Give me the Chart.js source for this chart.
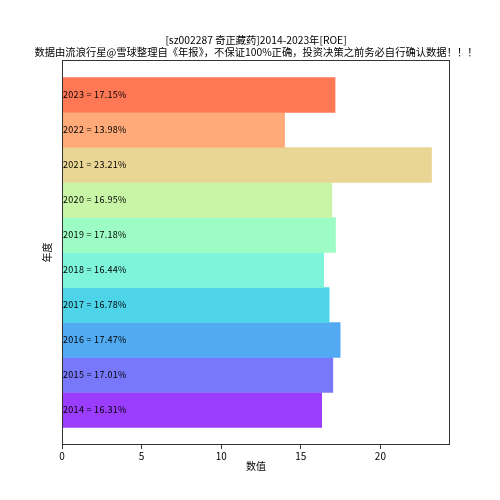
<!DOCTYPE html>
<html>
<head>
<meta charset="utf-8">
<script src="https://cdn.jsdelivr.net/npm/chart.js@4/dist/chart.umd.min.js"></script>
<style>
  html, body { margin: 0; padding: 0; background: #fff; }
  #wrap { width: 500px; height: 500px; }
</style>
</head>
<body>
<div id="wrap"><canvas id="roeChart"></canvas></div>
<script>
// -----------------------------
// Data (2014 at the bottom)
// -----------------------------
const years = ['2014', '2015', '2016', '2017', '2018', '2019', '2020', '2021', '2022', '2023'];
const roeValues = [16.31, 17.01, 17.47, 16.78, 16.44, 17.18, 16.95, 23.21, 13.98, 17.15];
const barColors = ['#9a3dfc', '#7878fa', '#52aaf2', '#4dd4e8', '#7ef5da',
                   '#9dfcc4', '#c8f5a6', '#ead694', '#ffaa78', '#ff7856'];
const xTicks = [0, 5, 10, 15, 20];

const titleLines = [
  '[sz002287 奇正藏药]2014-2023年[ROE]',
  '数据由流浪行星@雪球整理自《年报》，不保证100%正确，投资决策之前务必自行确认数据！！！'
];

const cjkFont = '"Noto Sans CJK SC", "Noto Sans", sans-serif';
const axisColor = '#333';

// -----------------------------
// Plugins
// -----------------------------
const titlePlugin = {
  id: 'twoLineTitle',
  afterDraw(chart) {
    const { ctx, chartArea } = chart;
    const cx = (chartArea.left + chartArea.right) / 2;
    ctx.save();
    ctx.fillStyle = '#000';
    ctx.textAlign = 'center';
    ctx.textBaseline = 'middle';
    ctx.font = `10.3px ${cjkFont}`;
    ctx.fillText(titleLines[0], cx, 40);
    ctx.fillText(titleLines[1], cx, 52);
    ctx.restore();
  }
};

const framePlugin = {
  id: 'frame',
  afterDraw(chart) {
    const { ctx, chartArea } = chart;
    ctx.save();
    ctx.strokeStyle = axisColor;
    ctx.lineWidth = 1;
    ctx.strokeRect(chartArea.left + 0.5, chartArea.top + 0.5,
                   chartArea.right - chartArea.left - 1, chartArea.bottom - chartArea.top - 1);
    ctx.restore();
  }
};

const barLabelPlugin = {
  id: 'barLabels',
  afterDatasetsDraw(chart) {
    const { ctx, scales } = chart;
    ctx.save();
    ctx.fillStyle = '#000';
    ctx.textAlign = 'left';
    ctx.textBaseline = 'middle';
    ctx.font = `9px ${cjkFont}`;
    if ('letterSpacing' in ctx) ctx.letterSpacing = '0.3px';
    years.forEach((yr, i) => {
      const y = scales.y.getPixelForValue(i);
      ctx.fillText(`${yr} = ${roeValues[i].toFixed(2)}%`, scales.x.getPixelForValue(0) + 1, y);
    });
    ctx.restore();
  }
};

// -----------------------------
// Chart
// -----------------------------
new Chart(document.getElementById('roeChart'), {
  type: 'bar',
  data: {
    datasets: [{
      label: 'ROE',
      data: roeValues.map((v, i) => ({ x: v, y: i })),
      backgroundColor: barColors,
      borderWidth: 0,
      barPercentage: 1,
      categoryPercentage: 1
    }]
  },
  options: {
    indexAxis: 'y',
    responsive: true,
    maintainAspectRatio: false,
    animation: false,
    layout: { padding: { top: 60, right: 50, bottom: 24, left: 37 } },
    plugins: {
      legend: { display: false },
      tooltip: { enabled: false }
    },
    scales: {
      x: {
        type: 'linear',
        min: 0,
        max: 24.37,
        afterBuildTicks: scale => { scale.ticks = xTicks.map(v => ({ value: v })); },
        afterFit: scale => { scale.height = 31; },
        grid: { display: true, drawOnChartArea: false, drawTicks: true, tickLength: 4, color: axisColor },
        border: { display: false },
        ticks: { color: '#000', font: { family: cjkFont, size: 10 }, padding: 1, maxRotation: 0 },
        title: { display: true, text: '数值', color: '#000', font: { family: cjkFont, size: 10 } }
      },
      y: {
        type: 'linear',
        min: -1,
        max: 10,
        offset: false,
        afterFit: scale => { scale.width = 25; },
        grid: { display: false },
        border: { display: false },
        ticks: { display: false },
        title: { display: true, text: '年度', color: '#000', font: { family: cjkFont, size: 10 } }
      }
    }
  },
  plugins: [titlePlugin, framePlugin, barLabelPlugin]
});
</script>
</body>
</html>
